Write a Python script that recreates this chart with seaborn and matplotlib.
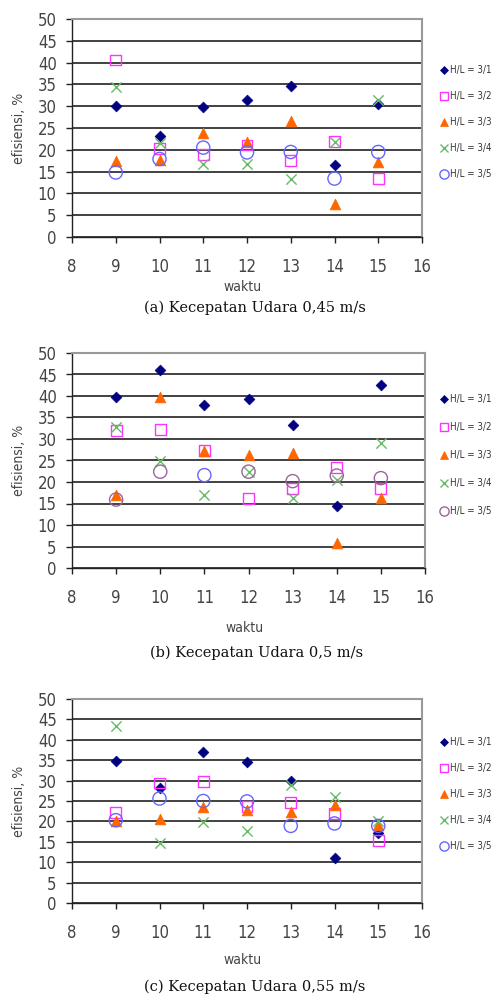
import matplotlib
matplotlib.use("Agg")
import matplotlib.pyplot as plt
import seaborn as sns

hours = [9, 10, 11, 12, 13, 14, 15]
series_labels = ["H/L = 3/1", "H/L = 3/2", "H/L = 3/3", "H/L = 3/4", "H/L = 3/5"]

# (a) air velocity 0.45 m/s
a_31 = [30.1, 23.2, 29.9, 31.5, 34.7, 16.6, 30.4]
a_32 = [40.6, 20.3, 19.0, 21.1, 17.6, 21.9, 13.5]
a_33 = [17.5, 17.7, 23.8, 21.9, 26.7, 7.6, 17.3]
a_34 = [34.3, 21.5, 16.8, 16.7, 13.3, 21.8, 31.5]
a_35 = [14.8, 17.9, 20.5, 19.4, 19.5, 13.4, 19.5]

# (b) air velocity 0.5 m/s
b_31 = [39.8, 46.0, 37.9, 39.2, 33.2, 14.5, 42.5]
b_32 = [31.9, 32.2, 27.4, 16.2, 18.5, 23.3, 18.5]
b_33 = [17.0, 39.7, 27.3, 26.2, 26.8, 5.9, 16.2]
b_34 = [32.8, 24.9, 17.0, 22.4, 16.2, 20.5, 29.0]
b_35 = [15.9, 22.4, 21.6, 22.4, 20.2, 21.5, 20.9]

# (c) air velocity 0.55 m/s
c_31 = [34.7, 28.3, 36.9, 34.6, 30.0, 11.1, 17.1]
c_32 = [22.2, 29.4, 29.8, 23.7, 24.7, 22.0, 15.3]
c_33 = [20.1, 20.6, 23.5, 22.7, 22.3, 24.1, 19.0]
c_34 = [43.4, 14.7, 19.8, 17.7, 28.8, 25.9, 20.1]
c_35 = [20.3, 25.6, 25.0, 24.9, 18.9, 19.5, 18.9]

captions = ["(a) Kecepatan Udara 0,45 m/s",
            "(b) Kecepatan Udara 0,5 m/s",
            "(c) Kecepatan Udara 0,55 m/s"]

panels = [[a_31, a_32, a_33, a_34, a_35],
          [b_31, b_32, b_33, b_34, b_35],
          [c_31, c_32, c_33, c_34, c_35]]

sns.set_style("white")
plt.rcParams['font.family'] = ['DejaVu Sans']
plt.rcParams['font.stretch'] = 'condensed'

W, H = 494, 996

# marker styles: (marker, size, facecolor, edgecolor, linewidth)
styles = [("D", 30, "#000080", "#000080", 0.5),
          ("s", 60, "none", "#ff33ff", 1.0),
          ("^", 60, "#ff6600", "#ff6600", 0.5),
          ("x", 55, "#66bb66", "#66bb66", 1.0),
          ("o", 90, "none", "#6666ff", 1.0)]
# H/L = 3/5 is purple in panel (b), except the 11 o'clock point which is blue there
blue, purple = "#6666ff", "#996699"
circle_edges = [[blue] * 7,
                [purple, purple, blue, purple, purple, purple, purple],
                [blue] * 7]
circle_legend = [blue, purple, blue]

# axes boxes in pixels (left, top, right, bottom)
boxes_px = [(72, 19, 422, 237), (72, 353, 425, 568), (72, 699, 422, 903)]
waktu_y = [287, 628, 960]
caption_y = [308, 653, 987]
legend_top = [70, 399, 742]
legend_gap = [1.65, 1.85, 1.65]

fig = plt.figure(figsize=(W / 100, H / 100), dpi=100)

for p, (data, bx, cap) in enumerate(zip(panels, boxes_px, captions)):
    l, t, r, b = bx
    ax = fig.add_axes([l / W, 1 - b / H, (r - l) / W, (b - t) / H])
    handles = []
    for i, (vals, lab) in enumerate(zip(data, series_labels)):
        m, s, fc, ec, lw = styles[i]
        if i == 4:
            ec = circle_edges[p]
        sns.scatterplot(x=hours, y=vals, ax=ax, marker=m, s=s,
                        facecolor=fc, edgecolor=ec,
                        linewidth=lw, zorder=3)
        hc = circle_legend[p] if i == 4 else ec
        handles.append(plt.Line2D([], [], linestyle="none", marker=m,
                                  markersize=s ** 0.5 * 0.7,
                                  markerfacecolor=fc, markeredgecolor=hc,
                                  markeredgewidth=lw if m != "x" else 1.0,
                                  label=lab))
    ax.set_xlim(8, 16)
    ax.set_ylim(0, 50)
    ax.set_xticks(range(8, 17))
    ax.set_yticks(range(0, 51, 5))
    ax.yaxis.grid(True, color="#333333", linewidth=1.3)
    ax.xaxis.grid(False)
    ax.set_axisbelow(True)
    for side in ["top", "right"]:
        ax.spines[side].set_color("#999999")
        ax.spines[side].set_linewidth(1.5)
    for side in ["left", "bottom"]:
        ax.spines[side].set_color("#222222")
        ax.spines[side].set_linewidth(1.0)
    ax.tick_params(axis="both", direction="out", length=4, width=1,
                   color="#222222", labelsize=12, labelcolor="#444444",
                   left=True, bottom=True)
    ax.tick_params(axis="y", pad=7)
    ax.tick_params(axis="x", pad=11)
    ax.set_ylabel("efisiensi, %", fontsize=10, color="#444444")
    ax.yaxis.set_label_coords((26 - l) / (r - l), 0.5)
    cx = (l + r) / 2 / W
    fig.text(cx - 4 / W, 1 - waktu_y[p] / H, "waktu", ha="center", va="center",
             fontsize=10, color="#444444")
    fig.text(cx + 8 / W, 1 - caption_y[p] / H, cap, ha="center", va="center",
             fontsize=10.5, family="DejaVu Serif", stretch="normal", color="#111111")
    leg = ax.legend(handles=handles, loc="upper left",
                    bbox_to_anchor=(439 / W, 1 - (legend_top[p] - 5) / H),
                    bbox_transform=fig.transFigure,
                    frameon=False, fontsize=7, handletextpad=0.1,
                    labelspacing=legend_gap[p], handlelength=1.0,
                    borderaxespad=0, borderpad=0)
    for txt in leg.get_texts():
        txt.set_color("#333333")

fig.savefig("out.png", dpi=100)
